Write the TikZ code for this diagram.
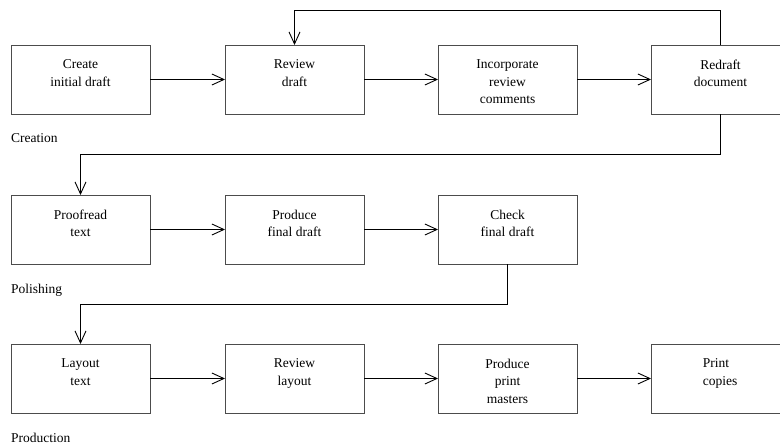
\documentclass[tikz,border=0pt]{standalone}
\usepackage{fontspec}
\setmainfont{Liberation Serif}
\usetikzlibrary{arrows.meta}
\begin{document}
\begin{tikzpicture}[x=1pt,y=-1pt,
  stepbox/.style={draw=black!70, line width=0.9pt, minimum width=139pt,
    minimum height=69pt, anchor=north west, inner sep=0pt, outer sep=0pt},
  boxtext/.style={anchor=north, align=center, inner sep=0pt, yshift=-14.5pt,
    font=\fontsize{13.5}{17.5}\selectfont},
  flow/.style={line width=0.9pt,
    -{Straight Barb[length=12pt,width=11pt,line width=0.9pt]}},
  phase/.style={anchor=base west, inner sep=0pt,
    font=\fontsize{13.5}{17.5}\selectfont}
]
\clip (0,0) rectangle (780,447);

% Creation
\node[stepbox] (a) at (11,45)  {};
\node[stepbox] (b) at (225,45) {};
\node[stepbox] (c) at (438,45) {};
\node[stepbox] (d) at (651,45) {};
\node[boxtext] (at) at (a.north) {Create\\initial draft};
\node[boxtext] (bt) at (b.north) {Review\\draft};
\node[boxtext] (ct) at (c.north) {Incorporate\\review\\comments};
\node[boxtext] (dt) at (d.north) {Redraft\\document};
\node[phase] (p1) at (11,142.5) {Creation};

% Polishing
\node[stepbox] (e) at (11,195)  {};
\node[stepbox] (f) at (225,195) {};
\node[stepbox] (g) at (438,195) {};
\node[boxtext] (et) at (e.north) {Proofread\\text};
\node[boxtext] (ft) at (f.north) {Produce\\final draft};
\node[boxtext] (gt) at (g.north) {Check\\final draft};
\node[phase] (p2) at (11,293) {Polishing};

% Production
\node[stepbox] (h) at (11,344)  {};
\node[stepbox] (i) at (225,344) {};
\node[stepbox] (j) at (438,344) {};
\node[stepbox] (k) at (651,344) {};
\node[boxtext] (ht) at (h.north) {Layout\\text};
\node[boxtext] (it) at (i.north) {Review\\layout};
\node[boxtext] (jt) at (j.north) {Produce\\print\\masters};
\node[boxtext, align=left, xshift=-0.5pt] (kt) at (k.north) {Print\\copies};
\node[phase] (p3) at (11,442) {Production};

% routing levels
\coordinate (top) at (0,10);
\coordinate (r12) at (0,154);
\coordinate (r23) at (0,304);

% connectors
\draw[flow] (a.east) -- (b.west);
\draw[flow] (b.east) -- (c.west);
\draw[flow] (c.east) -- (d.west);
\draw[flow] (d.north) -- (d.north |- top) -| (b.north);
\draw[flow] (d.south) -- (d.south |- r12) -| (e.north);
\draw[flow] (e.east) -- (f.west);
\draw[flow] (f.east) -- (g.west);
\draw[flow] (g.south) -- (g.south |- r23) -| (h.north);
\draw[flow] (h.east) -- (i.west);
\draw[flow] (i.east) -- (j.west);
\draw[flow] (j.east) -- (k.west);
\end{tikzpicture}
\end{document}
